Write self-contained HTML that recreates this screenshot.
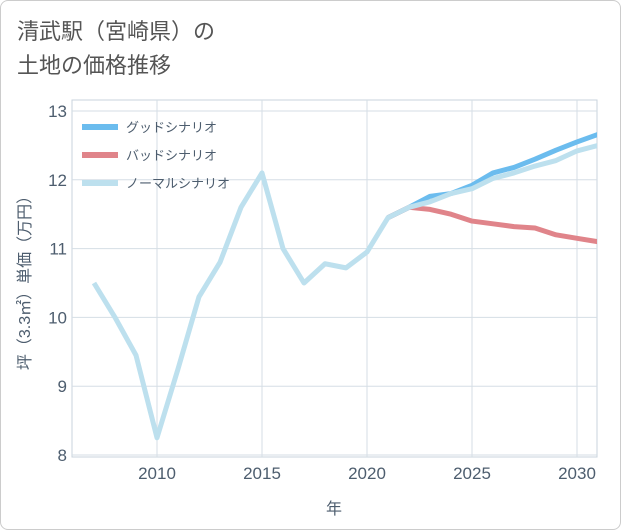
<!DOCTYPE html>
<html><head><meta charset="utf-8"><style>
body{margin:0;background:#fff;font-family:"Liberation Sans","Noto Sans CJK JP",sans-serif;}
#wrap{position:relative;width:619px;height:528px;border:1px solid #ccc;border-radius:8px;overflow:hidden;background:#fff}
.title{position:absolute;left:16px;top:14px;font-size:22px;color:#555;line-height:34px}
</style></head><body>
<div id="wrap">
<div class="title">清武駅（宮崎県）の<br>土地の価格推移</div>
<svg id="chart" width="621" height="530" style="position:absolute;left:-1px;top:-1px"></svg>
</div>
<script>
const years=[2007,2008,2009,2010,2011,2012,2013,2014,2015,2016,2017,2018,2019,2020,2021,2022,2023,2024,2025,2026,2027,2028,2029,2030,2031];
const normal=[10.5,10.0,9.45,8.25,9.25,10.3,10.8,11.6,12.1,11.0,10.5,10.78,10.72,10.95,11.45,11.6,11.68,11.8,11.87,12.02,12.1,12.2,12.28,12.42,12.5];
const goodYears=[2021,2022,2023,2024,2025,2026,2027,2028,2029,2030,2031];
const good=[11.45,11.6,11.76,11.8,11.92,12.1,12.18,12.3,12.43,12.55,12.66];
const bad=[11.45,11.6,11.57,11.5,11.4,11.36,11.32,11.3,11.2,11.15,11.1];
const yTicks=[8,9,10,11,12,13];
const xTicks=[2010,2015,2020,2025,2030];
const legendLabels=["グッドシナリオ","バッドシナリオ","ノーマルシナリオ"];
const ns="http://www.w3.org/2000/svg";
const svg=document.getElementById('chart');
const L=72,R=597,T=100,B=457;
const tc='#4d5d6e';
const x=v=>157+(v-2010)*21;
const y=v=>455-(v-8)*68.8;
function mk(t,a){const e=document.createElementNS(ns,t);for(const k in a)e.setAttribute(k,a[k]);svg.appendChild(e);return e;}
const bg=mk('rect',{x:L,y:T,width:R-L,height:B-T,fill:'#fff',stroke:'#c8d3dc'});


yTicks.forEach(v=>{
 const g=mk('line',{x1:L,x2:R,y1:y(v),y2:y(v),stroke:'#d5dee5'});
 
 
 const t=mk('text',{x:L-5,y:y(v)+6,'text-anchor':'end','font-size':17,fill:tc});t.textContent=v;
 
 
});
xTicks.forEach(v=>{
 const g=mk('line',{x1:x(v),x2:x(v),y1:T,y2:B,stroke:'#d5dee5'});
 
 
 const t=mk('text',{x:x(v),y:479,'text-anchor':'middle','font-size':17,fill:tc});t.textContent=v;
 
 
});
const xt=mk('text',{x:334,y:514,'text-anchor':'middle','font-size':16,fill:tc});xt.textContent='年';


const yt=mk('text',{x:0,y:0,'text-anchor':'middle','font-size':16,fill:tc,transform:'translate(30,279) rotate(-90)'});yt.textContent='坪（3.3㎡）単価（万円）';


const clip=mk('clipPath',{id:'c'});const cr=document.createElementNS(ns,'rect');cr.setAttribute('x',L);cr.setAttribute('y',T);cr.setAttribute('width',R-L);cr.setAttribute('height',B-T);clip.appendChild(cr);
function line(xs,vs,color,name){const p=mk('polyline',{points:xs.map((a,i)=>x(a)+','+y(vs[i])).join(' '),fill:'none',stroke:color,'stroke-width':5,'stroke-linejoin':'round','clip-path':'url(#c)'});
 
 }
line(goodYears,good,'#6bbcee','good-scenario-line');
line(goodYears,bad,'#e0848a','bad-scenario-line');
line(years,normal,'#bde0ee','normal-scenario-line');
const colors=['#6bbcee','#e0848a','#bde0ee'];
legendLabels.forEach((s,i)=>{
 const ly=127+i*28;
 const l=mk('line',{x1:82,x2:118,y1:ly,y2:ly,stroke:colors[i],'stroke-width':6});
 
 
 const t=mk('text',{x:126,y:ly+5,'font-size':13,fill:tc});t.textContent=s;
 
 
});
</script>
</body></html>
